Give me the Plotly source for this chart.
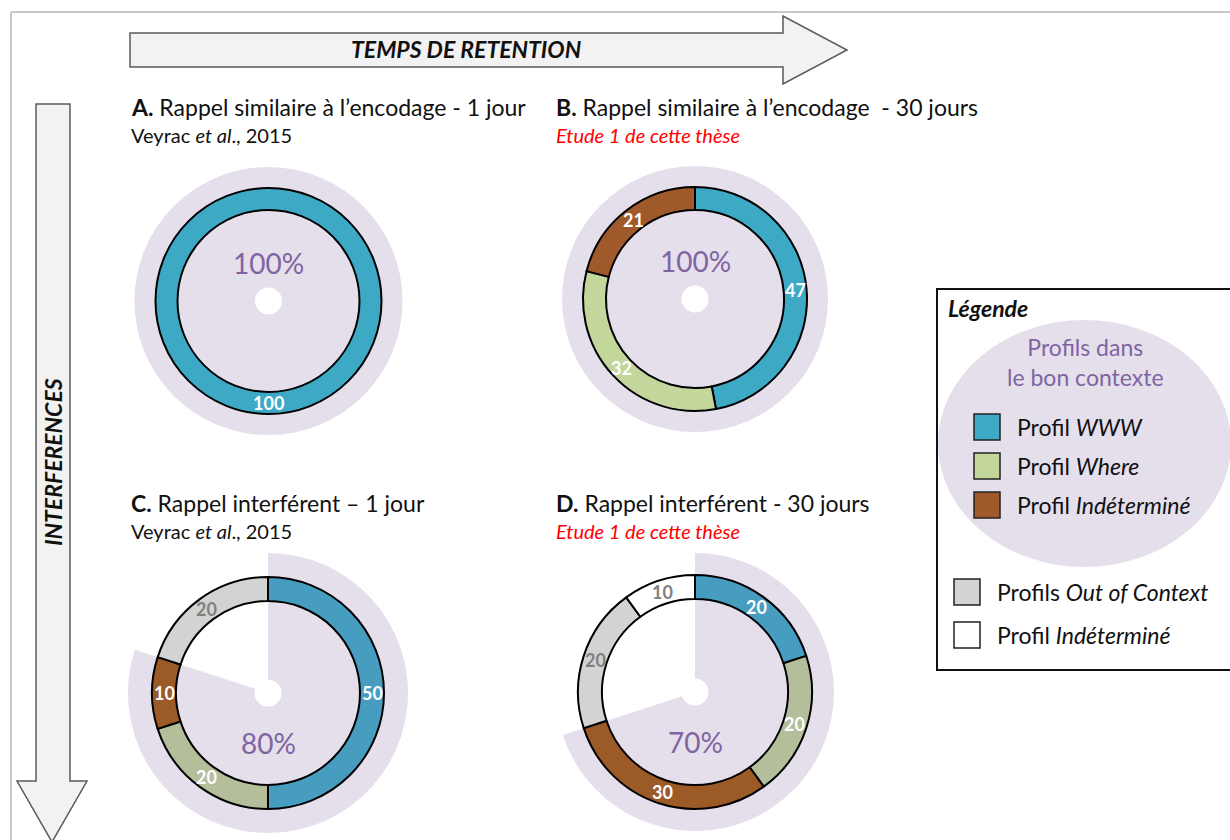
import math
import plotly.graph_objects as go

# ---- data -------------------------------------------------------------
profiles = ["WWW", "Where", "Indéterminé", "Out of Context", "Indéterminé (hors contexte)"]
in_context = [True, True, True, False, False]

panel_keys = ["A", "B", "C", "D"]
panel_a = [100, 0, 0, 0, 0]
panel_b = [47, 32, 21, 0, 0]
panel_c = [50, 20, 10, 20, 0]
panel_d = [20, 20, 30, 20, 10]
panel_values = [panel_a, panel_b, panel_c, panel_d]

panel_titles = [
    "<b>A.</b> Rappel similaire à l’encodage - 1 jour",
    "<b>B.</b> Rappel similaire à l’encodage  - 30 jours",
    "<b>C.</b> Rappel interférent – 1 jour",
    "<b>D.</b> Rappel interférent - 30 jours",
]
panel_sources = [
    "Veyrac <i>et al</i>., 2015",
    "<i>Etude 1 de cette thèse</i>",
    "Veyrac <i>et al</i>., 2015",
    "<i>Etude 1 de cette thèse</i>",
]
source_colors = ["#111111", "#FF0000", "#111111", "#FF0000"]

legend_items = ["Profil <i>WWW</i>", "Profil <i>Where</i>", "Profil <i>Indéterminé</i>",
                "Profils <i>Out of Context</i>", "Profil <i>Indéterminé</i>"]

# ---- styling ----------------------------------------------------------
W, H = 1230, 840
FONT = "Lato"
LAVENDER = "#E5DFEC"
PURPLE = "#8064A2"
colors_top = ["#3DA9C5", "#C3D69B", "#A0592A", "#D3D3D3", "#FFFFFF"]
colors_bottom = ["#479DC0", "#B4BE9B", "#9C5A27", "#D3D3D3", "#FFFFFF"]
panel_colors = [colors_top, colors_top, colors_bottom, colors_bottom]
label_colors = ["#FFFFFF", "#FFFFFF", "#FFFFFF", "#808080", "#808080"]

# geometry of each panel: centre (px), halo radius, ring outer / inner radius
centers = [(268.5, 301), (695, 299), (268, 693), (695, 692)]
halo_r = [134, 133, 140, 139]
ring_outer = [113, 112, 116, 117]
ring_inner = [91, 89, 92, 93]
hole_r = 13.5
title_pos = [(131, 107), (556, 107), (131, 503), (556, 503)]


def domain(cx, cy, r):
    return dict(x=[(cx - r) / W, (cx + r) / W], y=[1 - (cy + r) / H, 1 - (cy - r) / H])


fig = go.Figure()
annotations = []
shapes = []

for k, vals in enumerate(panel_values):
    cx, cy = centers[k]
    good = sum(v for v, ok in zip(vals, in_context) if ok)
    total = sum(vals)

    # halo: share of profiles in the right context
    fig.add_trace(go.Pie(
        values=[good, total - good], labels=["bon contexte", "autre"],
        marker=dict(colors=[LAVENDER, "rgba(0,0,0,0)"], line=dict(width=0)),
        hole=hole_r / halo_r[k], domain=domain(cx, cy, halo_r[k]),
        sort=False, direction="clockwise", rotation=0,
        textinfo="none", hoverinfo="skip", showlegend=False,
    ))

    # ring of profiles
    keep = [i for i, v in enumerate(vals) if v > 0]
    fig.add_trace(go.Pie(
        values=[vals[i] for i in keep], labels=[profiles[i] for i in keep],
        marker=dict(colors=[panel_colors[k][i] for i in keep],
                    line=dict(color="#000000", width=2)),
        hole=ring_inner[k] / ring_outer[k], domain=domain(cx, cy, ring_outer[k]),
        sort=False, direction="clockwise", rotation=0,
        textinfo="none", hoverinfo="label+value", showlegend=False,
    ))

    # value labels at the middle of each ring segment
    rm = (ring_outer[k] + ring_inner[k]) / 2
    cum = 0
    for i in keep:
        mid = (cum + vals[i] / 2) / total * 2 * math.pi
        cum += vals[i]
        annotations.append(dict(
            x=cx + rm * math.sin(mid), y=cy - rm * math.cos(mid),
            text=f"<b>{vals[i]}</b>", showarrow=False,
            font=dict(family=FONT, size=18, color=label_colors[i]),
            xanchor="center", yanchor="middle",
        ))

    # percentage of profiles in context
    pct_y = cy - 38 if k < 2 else cy + 50
    annotations.append(dict(
        x=cx, y=pct_y, text=f"{good}%", showarrow=False,
        font=dict(family=FONT, size=28, color=PURPLE),
        xanchor="center", yanchor="middle",
    ))

    # titles
    tx, ty = title_pos[k]
    annotations.append(dict(x=tx - 2, y=ty, text=panel_titles[k], showarrow=False,
                            font=dict(family=FONT, size=23, color="#111111"),
                            xanchor="left", yanchor="middle"))
    annotations.append(dict(x=tx - 2, y=ty + 28, text=panel_sources[k], showarrow=False,
                            font=dict(family=FONT, size=20, color=source_colors[k]),
                            xanchor="left", yanchor="middle"))

# ---- frame and arrows -------------------------------------------------
shapes.append(dict(type="line", x0=11, y0=12, x1=11, y1=H, line=dict(color="#C8C8C8", width=2)))
shapes.append(dict(type="line", x0=11, y0=12, x1=W, y1=12, line=dict(color="#C8C8C8", width=2)))
shapes.append(dict(type="path",
                   path="M130,33 L783,33 L783,16 L847,50 L783,84 L783,67 L130,67 Z",
                   fillcolor="#F2F2F2", line=dict(color="#595959", width=1.5)))
shapes.append(dict(type="path",
                   path="M36,104 L70,104 L70,781 L87,781 L52,842 L17,781 L36,781 Z",
                   fillcolor="#F2F2F2", line=dict(color="#595959", width=1.5)))
annotations.append(dict(x=466, y=49, text="<b><i>TEMPS DE RETENTION</i></b>", showarrow=False,
                        font=dict(family=FONT, size=23, color="#111111"),
                        xanchor="center", yanchor="middle"))
annotations.append(dict(x=53, y=462, text="<b><i>INTERFERENCES</i></b>", showarrow=False,
                        textangle=-90, font=dict(family=FONT, size=23, color="#111111"),
                        xanchor="center", yanchor="middle"))

# ---- legend box ------------------------------------------------------
shapes.append(dict(type="rect", x0=937, y0=289, x1=1260, y1=670,
                   line=dict(color="#111111", width=2), fillcolor="rgba(0,0,0,0)"))
shapes.append(dict(type="circle", x0=938, y0=320, x1=1231, y1=567,
                   fillcolor=LAVENDER, line=dict(width=0)))
annotations.append(dict(x=946, y=308, text="<b><i>Légende</i></b>", showarrow=False,
                        font=dict(family=FONT, size=23, color="#111111"),
                        xanchor="left", yanchor="middle"))
annotations.append(dict(x=1085, y=362, text="Profils dans<br>le bon contexte", showarrow=False,
                        font=dict(family=FONT, size=23, color=PURPLE),
                        xanchor="center", yanchor="middle"))

legend_swatch_x = [974, 974, 974, 954, 954]
legend_rows_y = [427, 466, 505, 592, 635]
legend_colors = colors_top
for i, name in enumerate(legend_items):
    sx, sy = legend_swatch_x[i], legend_rows_y[i]
    shapes.append(dict(type="rect", x0=sx, y0=sy - 13, x1=sx + 26, y1=sy + 13,
                       fillcolor=legend_colors[i], line=dict(color="#222222", width=1.5)))
    annotations.append(dict(x=sx + 41, y=sy, text=name, showarrow=False,
                            font=dict(family=FONT, size=23, color="#111111"),
                            xanchor="left", yanchor="middle"))

fig.update_layout(
    width=W, height=H, margin=dict(l=0, r=0, t=0, b=0),
    paper_bgcolor="white", plot_bgcolor="white",
    xaxis=dict(range=[0, W], visible=False, fixedrange=True),
    yaxis=dict(range=[H, 0], visible=False, fixedrange=True),
    shapes=shapes, annotations=annotations, showlegend=False,
)
for s in fig.layout.shapes:
    s.xref = "x"
    s.yref = "y"
for a in fig.layout.annotations:
    a.xref = "x"
    a.yref = "y"

fig.write_html("out.html")
